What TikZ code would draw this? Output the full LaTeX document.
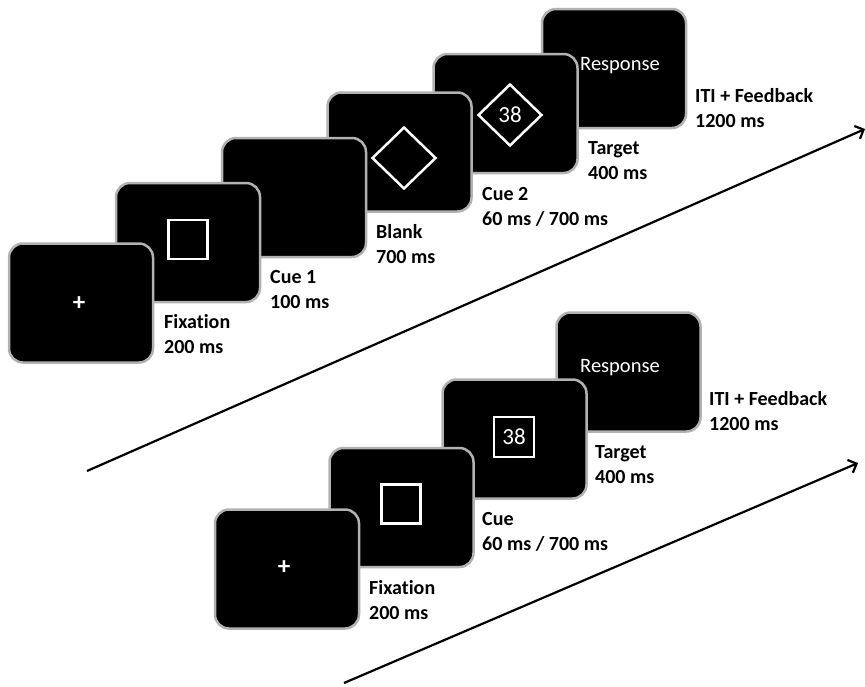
\documentclass[tikz,border=0pt]{standalone}
\usepackage{fontspec}
\setmainfont{Carlito}[Ligatures=NoCommon]
\usetikzlibrary{shapes.geometric,arrows.meta}
\begin{document}
\begin{tikzpicture}[x=1pt,y=-1pt,
  screen/.style={draw=black!30, line width=2.5pt, fill=black, rounded corners=14pt,
    minimum width=144pt, minimum height=119pt, inner sep=0pt},
  wsq/.style={draw=white, line width=2.5pt, minimum size=39pt, inner sep=0pt,
    text=white, font=\fontsize{23}{26}\selectfont},
  wdia/.style={diamond, draw=white, line width=2.5pt, minimum width=64pt,
    minimum height=62pt, inner sep=0pt, text=white, font=\fontsize{23}{26}\selectfont},
  lbl/.style={anchor=west, align=left, inner sep=0pt, font=\fontsize{20}{25}\selectfont\bfseries},
  wtxt/.style={text=white, inner sep=0pt, font=\fontsize{20.5}{24}\selectfont},
  plus/.style={text=white, inner sep=0pt, font=\fontsize{25}{28}\selectfont\bfseries},
  timearrow/.style={line width=2.2pt, -{Straight Barb[length=7pt,width=14pt,line width=2.2pt]}}]
\useasboundingbox[fill=white] (0,0) rectangle (865,686);

% ---------- top sequence (back to front) ----------
\node[screen] (t6) at (614,68.5) {};
\node[wtxt] (t6r) at (620,66) {Response};
\node[screen] (t5) at (505.5,113.5) {};
\node[wdia] (t5d) at (510,115) {38};
\node[screen] (t4) at (399.5,152) {};
\node[wdia] (t4d) at (404,158) {};
\node[screen] (t3) at (294,197.5) {};
\node[screen] (t2) at (188,242.5) {};
\node[wsq] (t2s) at (188,239.5) {};
\node[screen] (t1) at (81,303) {};
\node[plus] (t1p) at (79,304) {+};

\node[lbl] (l1) at (164,334.5) {Fixation\\200 ms};
\node[lbl] (l2) at (270,290) {Cue 1\\100 ms};
\node[lbl] (l3) at (376,244.5) {Blank\\700 ms};
\node[lbl] (l4) at (482,206.5) {Cue 2\\60 ms / 700 ms};
\node[lbl] (l5) at (588,161) {Target\\400 ms};
\node[lbl] (l6) at (695,108) {ITI + Feedback\\1200 ms};

\coordinate (a1s) at (87,471);
\coordinate (a1e) at (865,129);
\draw[timearrow] (a1s) -- (a1e);

% ---------- bottom sequence (back to front) ----------
\node[screen] (b4) at (628.5,372) {};
\node[wtxt] (b4r) at (620,368) {Response};
\node[screen] (b3) at (514.5,439) {};
\node[wsq, minimum size=40pt] (b3s) at (514,437) {38};
\node[screen] (b2) at (401.5,507.5) {};
\node[wsq] (b2s) at (401,504) {};
\node[screen] (b1) at (287,569) {};
\node[plus] (b1p) at (284,568) {+};

\node[lbl] (m1) at (369,600) {Fixation\\200 ms};
\node[lbl] (m2) at (482,532) {Cue\\60 ms / 700 ms};
\node[lbl] (m3) at (595,464.5) {Target\\400 ms};
\node[lbl] (m4) at (709,411) {ITI + Feedback\\1200 ms};

\coordinate (a2s) at (344,683);
\coordinate (a2e) at (858,463);
\draw[timearrow] (a2s) -- (a2e);
\end{tikzpicture}
\end{document}
